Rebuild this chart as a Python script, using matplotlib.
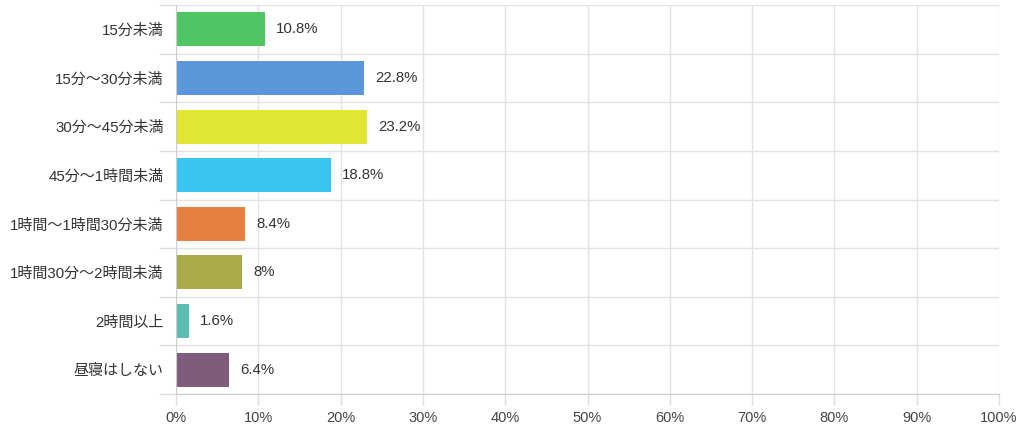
import numpy as np
import matplotlib
matplotlib.use("Agg")
import matplotlib.pyplot as plt

plt.rcParams['font.family'] = ['Liberation Sans', 'Noto Sans CJK JP', 'DejaVu Sans']

categories = ['15分未満', '15分～30分未満', '30分～45分未満', '45分～1時間未満',
              '1時間～1時間30分未満', '1時間30分～2時間未満', '2時間以上', '昼寝はしない']
values = [10.8, 22.8, 23.2, 18.8, 8.4, 8, 1.6, 6.4]
labels = ['10.8%', '22.8%', '23.2%', '18.8%', '8.4%', '8%', '1.6%', '6.4%']
colors = ['#4fc563', '#5c96da', '#e1e634', '#39c5f0', '#e67f42', '#a9aa4a', '#5ebdb2', '#7f5b7c']
xticks = np.arange(0, 101, 10)

fig = plt.figure(figsize=(10.24, 4.30), dpi=100)
ax = fig.add_axes([176/1024, 36/430, 823/1024, 389/430])

y = np.arange(len(categories))
ax.barh(y, values, height=0.7, color=colors, zorder=3)
for yi, v, lab in zip(y, values, labels):
    ax.annotate(lab, (v, yi), xytext=(8, 0), textcoords='offset points',
                va='center', ha='left', fontsize=10.8, color='#333333')

ax.set_xlim(0, 100)
ax.set_ylim(len(categories) - 0.5, -0.5)
ax.set_xticks(xticks)
ax.set_xticklabels([f'{t}%' for t in xticks], fontsize=10.5, color='#444444')
ax.set_yticks(y)
ax.set_yticklabels(categories, fontsize=10.8, color='#333333')
ax.set_yticks(np.arange(-0.5, len(categories)), minor=True)

ax.tick_params(axis='y', which='major', length=0, pad=9)
ax.tick_params(axis='y', which='minor', length=12, color='#dddddd', width=1)
ax.tick_params(axis='x', which='major', length=8, color='#dddddd', width=1, pad=4)
ax.grid(axis='x', which='major', color='#e2e2e2', linewidth=1, zorder=0)
ax.grid(axis='y', which='minor', color='#e2e2e2', linewidth=1, zorder=0)

for s in ['top', 'right']:
    ax.spines[s].set_visible(False)
ax.spines['left'].set_color('#cccccc')
ax.spines['bottom'].set_color('#cccccc')
ax.spines['left'].set_zorder(4)

fig.savefig('out.png', dpi=100)
